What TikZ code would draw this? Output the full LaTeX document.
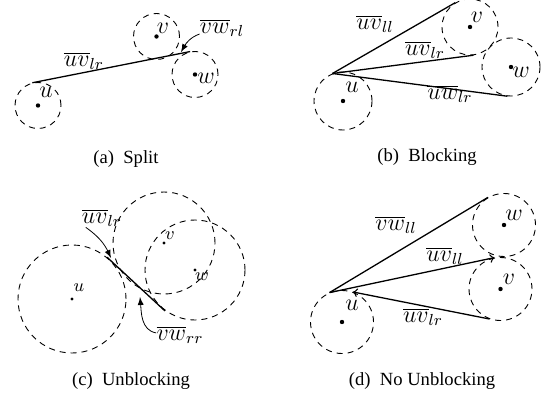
\documentclass[tikz,border=0pt]{standalone}
\usepackage{fontspec}
\setmainfont{Liberation Serif}
\usetikzlibrary{arrows}

\begin{document}
\begin{tikzpicture}[x=0.5pt,y=-0.5pt,
    zone/.style={circle,draw,dash pattern=on 3pt off 2.5pt,line width=0.45pt,inner sep=0pt},
    dot/.style={circle,fill,inner sep=0pt,minimum size=2.2pt},
    smalldot/.style={circle,fill,inner sep=0pt,minimum size=1.6pt},
    lbl/.style={inner sep=0pt,font=\fontsize{11.5}{13}\selectfont},
    smalllbl/.style={inner sep=0pt,font=\fontsize{9}{11}\selectfont},
    seg/.style={line width=0.65pt},
    captxt/.style={anchor=base,inner sep=0pt,font=\fontsize{9.3}{11}\selectfont}]
    \pgfmathsetmacro{\ra}{23}
    \pgfmathsetmacro{\rb}{29}
    \pgfmathsetmacro{\rd}{31.5}
    \useasboundingbox (0,0) rectangle (545,395);

    % (a) split
    \node[zone,minimum size=\ra pt] (ua) at (38,105.5) {};
    \node[zone,minimum size=\ra pt] (va) at (156.5,36.5) {};
    \node[zone,minimum size=\ra pt] (wa) at (195,74.5) {};
    \node[dot] (ua-c) at (ua) {};
    \node[dot] (va-c) at (va) {};
    \node[dot] (wa-c) at (wa) {};
    \node[lbl] (ua-l) at (46,92) {$u$};
    \node[lbl] (va-l) at (163,28) {$v$};
    \node[lbl] (wa-l) at (206,78) {$w$};
    \draw[seg] (ua.104) -- (wa.102);
    \node[lbl] (uvlr-a) at (84,61) {$\overline{uv}_{lr}$};
    \node[lbl] (vwrl-a) at (222,28) {$\overline{vw}_{rl}$};
    \coordinate (tip-a) at (181,52);
    \draw[-latex] (vwrl-a.-165) to[out=200,in=60] (tip-a);
    \node[captxt] (cap-a) at (126,163) {(a)~~Split};

    % (b) blocking
    \node[zone,minimum size=\rb pt] (ub) at (343,101) {};
    \node[zone,minimum size=28pt] (vb) at (470,27) {};
    \node[zone,minimum size=\rb pt] (wb) at (511,67) {};
    \node[dot] (ub-c) at (ub) {};
    \node[dot] (vb-c) at (vb) {};
    \node[dot] (wb-c) at (wb) {};
    \node[lbl] (ub-l) at (352,87) {$u$};
    \node[lbl] (vb-l) at (477,17) {$v$};
    \node[lbl] (wb-l) at (521,72) {$w$};
    \draw[seg] (ub.111) -- (vb.121);
    \draw[seg] (ub.111) -- (vb.-83);
    \draw[seg] (ub.111) -- (wb.263);
    \node[lbl] (uvll-b) at (375,24) {$\overline{uv}_{ll}$};
    \node[lbl] (uvlr-b) at (425,50) {$\overline{uv}_{lr}$};
    \node[lbl] (uwlr-b) at (450,94) {$\overline{uw}_{lr}$};
    \node[captxt] (cap-b) at (427,162) {(b)~~Blocking};

    % (c) unblocking
    \node[zone,minimum size=54pt] (uc) at (72,299) {};
    \node[zone,minimum size=51pt] (vc) at (164,243) {};
    \node[zone,minimum size=50pt] (wc) at (195,270) {};
    \node[smalldot] (uc-c) at (uc) {};
    \node[smalldot] (vc-c) at (vc) {};
    \node[smalldot] (wc-c) at (wc) {};
    \node[smalllbl] (uc-l) at (79,288) {$u$};
    \node[smalllbl] (vc-l) at (170,236) {$v$};
    \node[smalllbl] (wc-l) at (202,277) {$w$};
    \draw[seg,shorten <=-1pt,shorten >=-2.5pt] (uc.48) -- (wc.228);
    \node[lbl] (uvlr-c) at (102,218) {$\overline{uv}_{lr}$};
    \node[lbl] (vwrr-c) at (180,335) {$\overline{vw}_{rr}$};
    \coordinate (tip-c1) at (111,258);
    \coordinate (tip-c2) at (140,297);
    \draw[-latex] (uvlr-c.-150) to[out=-35,in=115] (tip-c1);
    \draw[-latex] (vwrr-c.175) to[out=170,in=-85] (tip-c2);
    \node[captxt] (cap-c) at (131,385) {(c)~~Unblocking};

    % (d) no unblocking
    \node[zone,minimum size=\rd pt] (ud) at (342,322) {};
    \node[zone,minimum size=\rd pt] (vd) at (500.5,289) {};
    \node[zone,minimum size=\rd pt] (wd) at (504,225) {};
    \node[dot] (ud-c) at (ud) {};
    \node[dot] (vd-c) at (vd) {};
    \node[dot] (wd-c) at (wd) {};
    \node[lbl] (ud-l) at (352,305) {$u$};
    \node[lbl] (vd-l) at (509,279) {$v$};
    \node[lbl] (wd-l) at (514,215) {$w$};
    \draw[seg] (ud.113) -- (wd.120);
    \draw[seg,->] (ud.113) -- (vd.101);
    \draw[seg,<-] (ud.70) -- (vd.250);
    \node[lbl] (vwll-d) at (396,225) {$\overline{vw}_{ll}$};
    \node[lbl] (uvll-d) at (445,256) {$\overline{uv}_{ll}$};
    \node[lbl] (uvlr-d) at (423,317) {$\overline{uv}_{lr}$};
    \node[captxt] (cap-d) at (422,385) {(d)~~No Unblocking};
\end{tikzpicture}
\end{document}
